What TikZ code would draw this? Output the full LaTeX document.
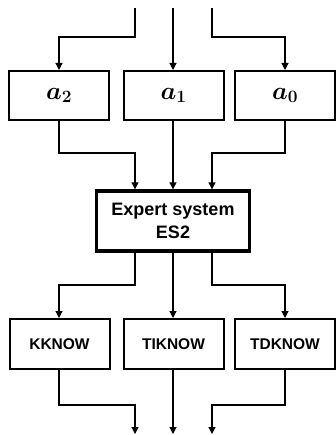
\documentclass[tikz,border=0pt]{standalone}
\usepackage{fontspec}
\setsansfont{Liberation Sans}
\usepackage{bm}
\usetikzlibrary{arrows.meta}
\begin{document}
\begin{tikzpicture}[x=1pt,y=-1pt,
  conn/.style={line width=1.1pt,-{Triangle[length=7pt,width=7pt]}},
  abox/.style={draw,line width=2pt,minimum width=100pt,minimum height=49pt,inner sep=0pt,font=\fontsize{23}{25}\selectfont},
  kbox/.style={draw,line width=2pt,minimum width=100pt,minimum height=50pt,inner sep=0pt,font=\sffamily\bfseries\fontsize{15.5}{17}\selectfont},
  esbox/.style={draw,line width=3.4pt,minimum width=153pt,minimum height=60pt,inner sep=0pt,align=center,font=\sffamily\bfseries\fontsize{18}{23}\selectfont}]
\useasboundingbox (0,0) rectangle (335,435);
\coordinate (t2) at (135,8);
\coordinate (t1) at (173,8);
\coordinate (t0) at (212,8);
\node[abox] (a2) at (59,95.5) {$\bm{a_2}$};
\node[abox] (a1) at (173.5,95.5) {$\bm{a_1}$};
\node[abox] (a0) at (285,95.5) {$\bm{a_0}$};
\node[esbox] (es) at (173,221) {Expert system\\ES2};
\node[kbox] (k) at (59.5,344) {KKNOW};
\node[kbox] (ti) at (173.5,344) {TIKNOW};
\node[kbox] (td) at (285,344) {TDKNOW};
\coordinate (b2) at (135,434);
\coordinate (b1) at (173,434);
\coordinate (b0) at (212,434);
% top inputs
\draw[conn] (t2) |- (59,37) -- (a2.north -| 59,0);
\draw[conn] (t1) -- (a1.north -| t1);
\draw[conn] (t0) |- (285,37) -- (a0.north -| 285,0);
% a-boxes to ES2
\draw[conn] (a2.south -| 59,0) |- (135,153) -- (es.north -| 135,0);
\draw[conn] (a1.south -| 173,0) -- (es.north -| 173,0);
\draw[conn] (a0.south -| 285,0) |- (212,153) -- (es.north -| 212,0);
% ES2 to knowledge boxes
\draw[conn] (es.south -| 135,0) |- (59,285) -- (k.north -| 59,0);
\draw[conn] (es.south -| 173,0) -- (ti.north -| 173,0);
\draw[conn] (es.south -| 212,0) |- (285,285) -- (td.north -| 285,0);
% outputs
\draw[conn] (k.south -| 59,0) |- (135,405) -- (b2);
\draw[conn] (ti.south -| 173,0) -- (b1);
\draw[conn] (td.south -| 285,0) |- (212,405) -- (b0);
\end{tikzpicture}
\end{document}
